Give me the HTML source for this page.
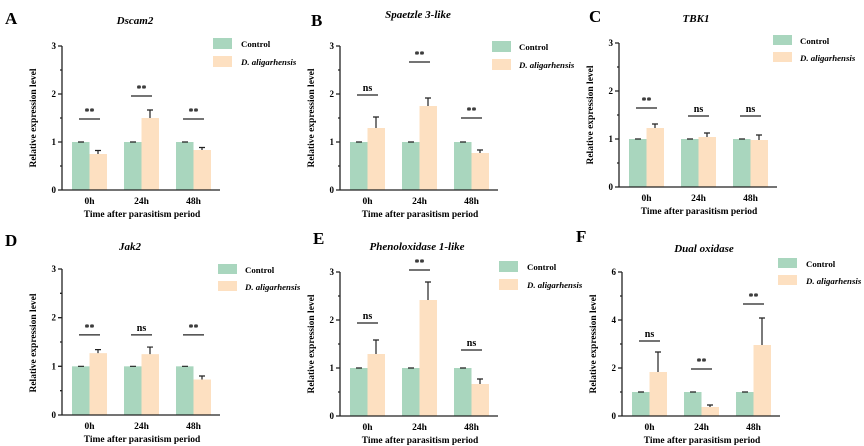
<!DOCTYPE html>
<html><head><meta charset="utf-8"><style>
body{margin:0;background:#fff}
svg{display:block;font-family:"Liberation Serif",serif;font-weight:bold}
.g{fill:#a9d6be}.o{fill:#fde0c1}
.ax{stroke:#222;stroke-width:1.3;fill:none}
.e{stroke:#222;stroke-width:1.2;fill:none}
.s{stroke:#222;stroke-width:1.3}
.t{font-size:9px;text-anchor:end}
.x{font-size:9.5px;text-anchor:middle}
.xt{font-size:9.5px;text-anchor:middle}
.yt{font-size:9.5px;text-anchor:middle}
.ti{font-size:11px;font-style:italic;text-anchor:middle}
.L{font-size:17px}
.lg{font-size:8.8px}
.sg{font-size:10px;text-anchor:middle}
</style></head><body>
<svg width="864" height="446" viewBox="0 0 864 446">
<defs>
<g id="axes3">
<path class="ax" d="M0,-144V0H158M0,-144h-4M0,-96h-4M0,-48h-4M0,0h-4M0,-120h-2M0,-72h-2M0,-24h-2"/>
<text class="t" x="-6" y="-141">3</text><text class="t" x="-6" y="-93">2</text><text class="t" x="-6" y="-45">1</text><text class="t" x="-6" y="3">0</text>
</g>
<g id="xl">
<text class="x" x="27.5" y="14">0h</text><text class="x" x="79.5" y="14">24h</text><text class="x" x="131.5" y="14">48h</text>
<text class="xt" x="80" y="27">Time after parasitism period</text>
<text class="yt" transform="translate(-26,-72) rotate(-90)">Relative expression level</text>
</g>
</defs>

<!-- A -->
<text class="L" x="5" y="24">A</text>
<text class="ti" x="135" y="24">Dscam2</text>
<rect class="g" x="213" y="38" width="19" height="11"/><text class="lg" x="241" y="47">Control</text>
<rect class="o" x="213" y="56" width="19" height="11"/><text class="lg" x="241" y="65" font-style="italic">D. aligarhensis</text>
<g transform="translate(62,190)">
<rect class="g" x="10" y="-48" width="17.5" height="48"/><rect class="o" x="27.5" y="-36" width="17.5" height="36"/>
<rect class="g" x="62" y="-48" width="17.5" height="48"/><rect class="o" x="79.5" y="-72" width="17.5" height="72"/>
<rect class="g" x="114" y="-48" width="17.5" height="48"/><rect class="o" x="131.5" y="-40" width="17.5" height="40"/>
<path class="e" d="M16,-48h6M68,-48h6M120,-48h6M36,-36v-3.5M33,-39.5h6M88,-72v-8M85,-80h6M140,-40v-2.5M137,-42.5h6"/>
<path class="s" d="M17,-71h21M69,-94h21M121,-71h21"/>
<text class="sg" x="27.5" y="-75">**</text><text class="sg" x="79.5" y="-98">**</text><text class="sg" x="131.5" y="-75">**</text>
<use href="#axes3"/><use href="#xl"/>
</g>

<!-- B -->
<text class="L" x="311" y="26">B</text>
<text class="ti" x="418" y="18">Spaetzle 3-like</text>
<rect class="g" x="492" y="41" width="19" height="11"/><text class="lg" x="519" y="50">Control</text>
<rect class="o" x="492" y="59" width="19" height="11"/><text class="lg" x="519" y="68" font-style="italic">D. aligarhensis</text>
<g transform="translate(340,190)">
<rect class="g" x="10" y="-48" width="17.5" height="48"/><rect class="o" x="27.5" y="-62" width="17.5" height="62"/>
<rect class="g" x="62" y="-48" width="17.5" height="48"/><rect class="o" x="79.5" y="-84" width="17.5" height="84"/>
<rect class="g" x="114" y="-48" width="17.5" height="48"/><rect class="o" x="131.5" y="-37" width="17.5" height="37"/>
<path class="e" d="M16,-48h6M68,-48h6M120,-48h6M36,-62v-11M33,-73h6M88,-84v-8M85,-92h6M140,-37v-3M137,-40h6"/>
<path class="s" d="M17,-95h21M69,-128h21M121,-72h21"/>
<text class="sg" x="27.5" y="-99">ns</text><text class="sg" x="79.5" y="-132">**</text><text class="sg" x="131.5" y="-76">**</text>
<use href="#axes3"/><use href="#xl"/>
</g>

<!-- C -->
<text class="L" x="589" y="22">C</text>
<text class="ti" x="696" y="22">TBK1</text>
<rect class="g" x="773" y="35" width="19" height="10"/><text class="lg" x="800" y="44">Control</text>
<rect class="o" x="773" y="52" width="19" height="10"/><text class="lg" x="800" y="61" font-style="italic">D. aligarhensis</text>
<g transform="translate(619,187)">
<rect class="g" x="10" y="-48" width="17.5" height="48"/><rect class="o" x="27.5" y="-59" width="17.5" height="59"/>
<rect class="g" x="62" y="-48" width="17.5" height="48"/><rect class="o" x="79.5" y="-50" width="17.5" height="50"/>
<rect class="g" x="114" y="-48" width="17.5" height="48"/><rect class="o" x="131.5" y="-47" width="17.5" height="47"/>
<path class="e" d="M16,-48h6M68,-48h6M120,-48h6M36,-59v-4M33,-63h6M88,-50v-4M85,-54h6M140,-47v-5M137,-52h6"/>
<path class="s" d="M17,-79h21M69,-71h21M121,-71h21"/>
<text class="sg" x="27.5" y="-83">**</text><text class="sg" x="79.5" y="-75">ns</text><text class="sg" x="131.5" y="-75">ns</text>
<use href="#axes3"/><use href="#xl"/>
</g>

<!-- D -->
<text class="L" x="5" y="246">D</text>
<text class="ti" x="130" y="250">Jak2</text>
<rect class="g" x="218" y="264" width="19" height="10"/><text class="lg" x="245" y="273">Control</text>
<rect class="o" x="218" y="281" width="19" height="10"/><text class="lg" x="245" y="290" font-style="italic">D. aligarhensis</text>
<g transform="translate(62,415) scale(1,1.014)">
<rect class="g" x="10" y="-48" width="17.5" height="48"/><rect class="o" x="27.5" y="-61" width="17.5" height="61"/>
<rect class="g" x="62" y="-48" width="17.5" height="48"/><rect class="o" x="79.5" y="-60" width="17.5" height="60"/>
<rect class="g" x="114" y="-48" width="17.5" height="48"/><rect class="o" x="131.5" y="-35" width="17.5" height="35"/>
<path class="e" d="M16,-48h6M68,-48h6M120,-48h6M36,-61v-3.5M33,-64.5h6M88,-60v-7M85,-67h6M140,-35v-3.5M137,-38.5h6"/>
<path class="s" d="M17,-79h21M69,-79h21M121,-79h21"/>
</g>
<g transform="translate(62,415)">
<text class="sg" x="27.5" y="-84">**</text><text class="sg" x="79.5" y="-84">ns</text><text class="sg" x="131.5" y="-84">**</text>
<g transform="scale(1,1.014)"><use href="#axes3"/></g><use href="#xl"/>
</g>

<!-- E -->
<text class="L" x="313" y="244">E</text>
<text class="ti" x="417" y="250">Phenoloxidase 1-like</text>
<rect class="g" x="499" y="261" width="19" height="11"/><text class="lg" x="527" y="270">Control</text>
<rect class="o" x="499" y="279" width="19" height="11"/><text class="lg" x="527" y="288" font-style="italic">D. aligarhensis</text>
<g transform="translate(340,416)">
<rect class="g" x="10" y="-48" width="17.5" height="48"/><rect class="o" x="27.5" y="-62" width="17.5" height="62"/>
<rect class="g" x="62" y="-48" width="17.5" height="48"/><rect class="o" x="79.5" y="-116" width="17.5" height="116"/>
<rect class="g" x="114" y="-48" width="17.5" height="48"/><rect class="o" x="131.5" y="-32" width="17.5" height="32"/>
<path class="e" d="M16,-48h6M68,-48h6M120,-48h6M36,-62v-14M33,-76h6M88,-116v-18M85,-134h6M140,-32v-5M137,-37h6"/>
<path class="s" d="M17,-93h21M69,-146h21M121,-66h21"/>
<text class="sg" x="27.5" y="-97">ns</text><text class="sg" x="79.5" y="-150">**</text><text class="sg" x="131.5" y="-70">ns</text>
<use href="#axes3"/><use href="#xl"/>
</g>

<!-- F -->
<text class="L" x="576" y="242">F</text>
<text class="ti" x="704" y="252">Dual oxidase</text>
<rect class="g" x="778" y="258" width="19" height="10"/><text class="lg" x="806" y="267">Control</text>
<rect class="o" x="778" y="275" width="19" height="10"/><text class="lg" x="806" y="284" font-style="italic">D. aligarhensis</text>
<g transform="translate(622,416)">
<rect class="g" x="10" y="-24" width="17.5" height="24"/><rect class="o" x="27.5" y="-44" width="17.5" height="44"/>
<rect class="g" x="62" y="-24" width="17.5" height="24"/><rect class="o" x="79.5" y="-9" width="17.5" height="9"/>
<rect class="g" x="114" y="-24" width="17.5" height="24"/><rect class="o" x="131.5" y="-71" width="17.5" height="71"/>
<path class="e" d="M16,-24h6M68,-24h6M120,-24h6M36,-44v-20M33,-64h6M88,-9v-2M85,-11h6M140,-71v-27M137,-98h6"/>
<path class="s" d="M17,-75h21M69,-47h21M121,-112h21"/>
<text class="sg" x="27.5" y="-79">ns</text><text class="sg" x="79.5" y="-51">**</text><text class="sg" x="131.5" y="-116">**</text>
<path class="ax" d="M0,-144V0H158M0,-144h-4M0,-96h-4M0,-48h-4M0,0h-4M0,-120h-2M0,-72h-2M0,-24h-2"/>
<text class="t" x="-6" y="-141">6</text><text class="t" x="-6" y="-93">4</text><text class="t" x="-6" y="-45">2</text><text class="t" x="-6" y="3">0</text>
<use href="#xl"/>
</g>
</svg>
</body></html>
